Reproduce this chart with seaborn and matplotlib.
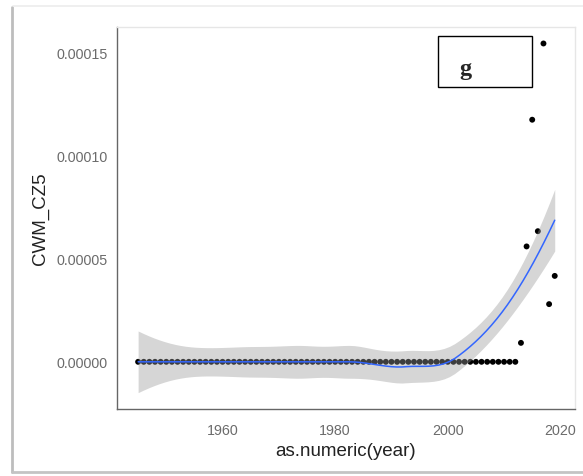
import numpy as np
import pandas as pd
import matplotlib
matplotlib.use("Agg")
import matplotlib.pyplot as plt
from matplotlib.lines import Line2D
from matplotlib.patches import Rectangle
import seaborn as sns

# Data (one point per year)
years = list(range(1945, 2020))
cwm_cz5 = [
    0, 0, 0, 0, 0, 0, 0, 0, 0, 0,          # 1945-1954
    0, 0, 0, 0, 0, 0, 0, 0, 0, 0,          # 1955-1964
    0, 0, 0, 0, 0, 0, 0, 0, 0, 0,          # 1965-1974
    0, 0, 0, 0, 0, 0, 0, 0, 0, 0,          # 1975-1984
    0, 0, 0, 0, 0, 0, 0, 0, 0, 0,          # 1985-1994
    0, 0, 0, 0, 0, 0, 0, 0, 0, 0,          # 1995-2004
    0, 0, 0, 0, 0, 0, 0, 0,                # 2005-2012
    0.0000092, 0.0000560, 0.0001175, 0.0000634,
    0.0001545, 0.0000280, 0.0000417,       # 2013-2019
]
x_ticks = [1960, 1980, 2000, 2020]
y_ticks = [0.0, 0.00005, 0.00010, 0.00015]
y_ticklabels = ["0.00000", "0.00005", "0.00010", "0.00015"]

df = pd.DataFrame({"year": years, "CWM_CZ5": cwm_cz5})

SPAN = 0.75
CELL = 0.2


def local_rows(x, x0, q):
    # local quadratic fit at x0 -> rows giving value and slope
    n = len(x)
    d = np.abs(x - x0)
    h = np.sort(d)[q - 1]
    w = np.clip(1 - (d / h) ** 3, 0, None) ** 3
    X = np.column_stack([np.ones(n), x - x0, (x - x0) ** 2])
    XtW = X.T * w
    B = np.linalg.solve(XtW @ X, XtW)
    return B[0], B[1]


def kd_vertices(x, fc):
    xs = np.sort(x)
    rng = xs[-1] - xs[0]
    verts = [xs[0] - 0.005 * rng, xs[-1] + 0.005 * rng]

    def split(lo, hi):
        if hi - lo + 1 <= fc:
            return
        m = (lo + hi) // 2
        verts.append((xs[m] + xs[m + 1]) / 2)
        split(lo, m)
        split(m + 1, hi)

    split(0, len(xs) - 1)
    return np.sort(verts)


def loess_operator(x, x_eval):
    # loess with surface="interpolate": vertex fits + cubic Hermite
    n = len(x)
    q = int(np.floor(n * SPAN))
    fc = int(np.floor(n * SPAN * CELL))
    v = kd_vertices(x, fc)
    val = np.zeros((len(v), n))
    der = np.zeros((len(v), n))
    for i, v0 in enumerate(v):
        val[i], der[i] = local_rows(x, v0, q)
    L = np.zeros((len(x_eval), n))
    for k, xe in enumerate(x_eval):
        i = min(max(np.searchsorted(v, xe) - 1, 0), len(v) - 2)
        h = v[i + 1] - v[i]
        t = (xe - v[i]) / h
        L[k] = (val[i] * (2 * t ** 3 - 3 * t ** 2 + 1)
                + der[i] * h * (t ** 3 - 2 * t ** 2 + t)
                + val[i + 1] * (-2 * t ** 3 + 3 * t ** 2)
                + der[i + 1] * h * (t ** 3 - t ** 2))
    return L


x = df["year"].to_numpy(float)
y = df["CWM_CZ5"].to_numpy(float)
grid = np.linspace(x.min(), x.max(), 80)

L_obs = loess_operator(x, x)
resid = y - L_obs @ y
M = np.eye(len(x)) - L_obs
MtM = M.T @ M
one_delta = np.trace(MtM)
two_delta = np.trace(MtM @ MtM)
sigma = np.sqrt(np.sum(resid ** 2) / one_delta)
dof = one_delta ** 2 / two_delta
z = 1.959964
tq = z + (z ** 3 + z) / (4 * dof) + (5 * z ** 5 + 16 * z ** 3 + 3 * z) / (96 * dof ** 2)

L_grid = loess_operator(x, grid)
fit = L_grid @ y
se = sigma * np.sqrt(np.sum(L_grid ** 2, axis=1))
smooth = pd.DataFrame({"year": grid, "fit": fit, "lo": fit - tq * se, "hi": fit + tq * se})

# Figure
sns.set_style("white")
plt.rcParams["font.family"] = ["Liberation Sans", "DejaVu Sans"]

fig = plt.figure(figsize=(5.83, 4.77), dpi=100)
ax = fig.add_axes([117 / 583, 1 - 410 / 477, (575 - 117) / 583, (410 - 28) / 477])

sns.scatterplot(data=df, x="year", y="CWM_CZ5", color="black", s=18,
                edgecolor="none", ax=ax, zorder=2)
ax.fill_between(smooth["year"], smooth["lo"], smooth["hi"], color="#999999",
                alpha=0.4, linewidth=0, zorder=3)
sns.lineplot(data=smooth, x="year", y="fit", color="#3366FF", linewidth=1.1,
             ax=ax, zorder=4)

ax.set_xlim(1941.25, 2022.6)
ax.set_ylim(-0.0000229, 0.0001625)
ax.set_xticks(x_ticks)
ax.set_yticks(y_ticks)
ax.set_yticklabels(y_ticklabels)
ax.tick_params(axis="both", length=4, width=0.8, color="#333333",
               labelcolor="#6b6b6b", labelsize=10.3, pad=3)
ax.tick_params(axis="x", pad=6)

ax.set_xlabel("as.numeric(year)", fontsize=13.5, color="#222222", labelpad=4)
ax.set_ylabel("CWM_CZ5", fontsize=13.5, color="#222222", labelpad=5)

for side in ["left", "bottom"]:
    ax.spines[side].set_color("#666666")
    ax.spines[side].set_linewidth(1.0)
for side in ["top", "right"]:
    ax.spines[side].set_color("#e6e6e6")
    ax.spines[side].set_linewidth(1.0)

# panel label box
ax.add_patch(Rectangle((438 / 583, 1 - 88 / 477), 94 / 583, 51 / 477,
                       transform=fig.transFigure, fill=False,
                       edgecolor="black", linewidth=1.0, zorder=6))
fig.text(465 / 583, 1 - 69 / 477, "g", fontsize=17.5, fontweight="bold",
         family="Liberation Serif", ha="center", va="center")

# screenshot frame
fig.add_artist(Line2D([12 / 583, 12 / 583], [1 - 8 / 477, 1 - 473 / 477],
                      color="#bdbdbd", linewidth=2.0))
fig.add_artist(Line2D([13 / 583, 1.0], [1 - 7 / 477, 1 - 7 / 477],
                      color="#ececec", linewidth=1.2))
fig.add_artist(Line2D([12 / 583, 1.0], [1 - 473 / 477, 1 - 473 / 477],
                      color="#c4c4c4", linewidth=2.0))

fig.savefig("out.png", dpi=100)
